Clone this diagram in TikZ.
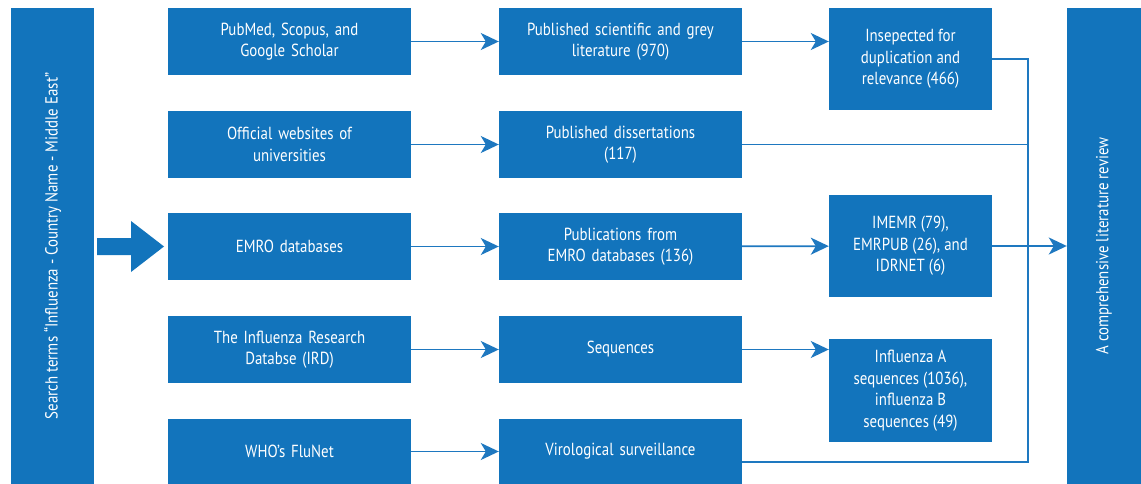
\documentclass[tikz,border=0pt]{standalone}
\usepackage{fontspec}
\setmainfont[FakeStretch=0.85]{PT Sans}
\usetikzlibrary{arrows.meta}
\definecolor{boxblue}{RGB}{18,116,188}
\definecolor{lineblue}{RGB}{30,120,192}
\tikzset{
  box/.style={fill=boxblue, draw=none, text=white, align=center, inner sep=2pt,
    font=\fontsize{17.5}{21.5}\selectfont},
  wide/.style={box, minimum width=243, minimum height=67, text width=236},
  narrow/.style={box, minimum width=163},
  conn/.style={draw=lineblue, line width=1.8pt},
  arr/.style={conn, -{Stealth[length=18pt,width=17pt,inset=5pt]}},
}
\begin{document}
\begin{tikzpicture}[x=1pt,y=-1pt]
\useasboundingbox (0,0) rectangle (1141,484);
% side bars
\node[box, minimum width=83, minimum height=476] (L) at (52.5,246) {\rotatebox{90}{Search terms “Influenza - Country Name - Middle East”}};
\node[box, minimum width=74, minimum height=476] (R) at (1104,246) {\rotatebox{90}{A comprehensive literature review}};
% big arrow
\fill[boxblue] (97,238) -- (131,238) -- (131,221) -- (164,246.5) -- (131,272) -- (131,255) -- (97,255) -- cycle;
% column 1
\node[wide] (a1) at (289.5,41.5) {PubMed, Scopus, and\\Google Scholar};
\node[wide] (a2) at (289.5,144.5) {Official websites of\\universities};
\node[wide] (a3) at (289.5,246.5) {EMRO databases};
\node[wide] (a4) at (289.5,349.5) {The Influenza Research\\Databse (IRD)};
\node[wide, minimum height=65] (a5) at (289.5,451.5) {WHO’s FluNet};
% column 2
\node[wide] (b1) at (620.5,41.5) {Published scientific and grey\\literature (970)};
\node[wide] (b2) at (620.5,144.5) {Published dissertations\\(117)};
\node[wide] (b3) at (620.5,246.5) {Publications from\\EMRO databases (136)};
\node[wide] (b4) at (620.5,349.5) {Sequences};
\node[wide, minimum height=65] (b5) at (620.5,451.5) {Virological surveillance};
% column 3
\node[narrow, minimum height=102] (c1) at (910.5,59) {Insepected for\\duplication and\\relevance (466)};
\node[narrow, minimum height=102] (c3) at (910.5,246) {IMEMR (79),\\EMRPUB (26), and\\IDRNET (6)};
\node[narrow, minimum height=103] (c4) at (910.5,390.5) {Influenza A\\sequences (1036),\\influenza B\\sequences (49)};
% arrows col1 -> col2
\foreach \i in {1,...,5} \draw[arr] (a\i) -- (b\i);
% arrows col2 -> col3
\draw[arr] (b1.east) -- (b1.east -| c1.west);
\draw[arr] (b3) -- (c3);
\draw[arr] (b4.east) -- (b4.east -| c4.west);
% collector
\coordinate (jtop) at (1028,59);
\coordinate (jbot) at (1028,462);
\coordinate (b5x) at ([yshift=-10.5]b5.east);
\draw[conn] (c1.east) -- (jtop) -- (jbot) -- (b5x);
\draw[conn] (b2.east) -- (b2.east -| jtop);
\draw[arr] (c3.east) -- (c3.east -| R.west);
\end{tikzpicture}
\end{document}
